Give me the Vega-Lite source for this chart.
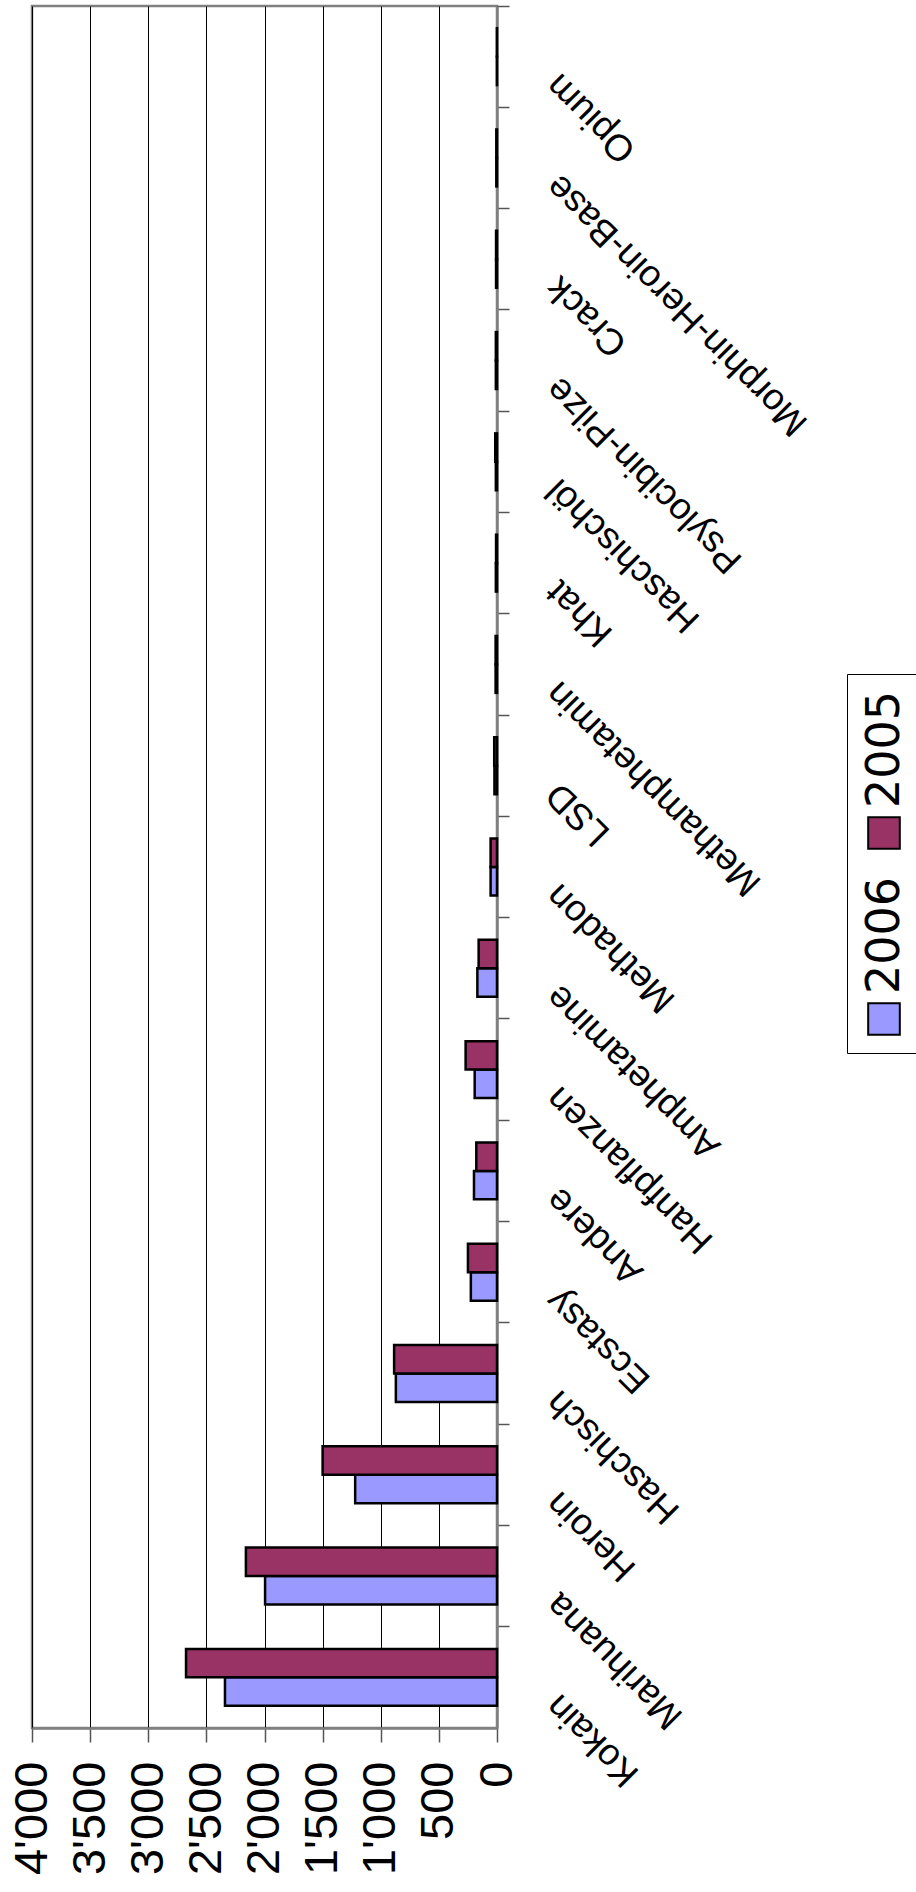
{
  "$schema": "https://vega.github.io/schema/vega-lite/v6.json",
  "autosize": "none",
  "width": 465,
  "height": 1722,
  "padding": {"left": 32, "top": 6, "right": 419, "bottom": 164},
  "background": "#ffffff",
  "data": {
    "values": [
      {"drug": "Kokain", "year": "2006", "n": 2340},
      {"drug": "Kokain", "year": "2005", "n": 2675},
      {"drug": "Marihuana", "year": "2006", "n": 1995},
      {"drug": "Marihuana", "year": "2005", "n": 2160},
      {"drug": "Heroin", "year": "2006", "n": 1220},
      {"drug": "Heroin", "year": "2005", "n": 1500},
      {"drug": "Haschisch", "year": "2006", "n": 870},
      {"drug": "Haschisch", "year": "2005", "n": 885},
      {"drug": "Ecstasy", "year": "2006", "n": 225},
      {"drug": "Ecstasy", "year": "2005", "n": 250},
      {"drug": "Andere", "year": "2006", "n": 198},
      {"drug": "Andere", "year": "2005", "n": 178},
      {"drug": "Hanfpflanzen", "year": "2006", "n": 192},
      {"drug": "Hanfpflanzen", "year": "2005", "n": 270},
      {"drug": "Amphetamine", "year": "2006", "n": 169},
      {"drug": "Amphetamine", "year": "2005", "n": 158},
      {"drug": "Methadon", "year": "2006", "n": 55},
      {"drug": "Methadon", "year": "2005", "n": 55},
      {"drug": "LSD", "year": "2006", "n": 22},
      {"drug": "LSD", "year": "2005", "n": 24},
      {"drug": "Methamphetamin", "year": "2006", "n": 12},
      {"drug": "Methamphetamin", "year": "2005", "n": 12},
      {"drug": "Khat", "year": "2006", "n": 10},
      {"drug": "Khat", "year": "2005", "n": 8},
      {"drug": "Haschischöl", "year": "2006", "n": 10},
      {"drug": "Haschischöl", "year": "2005", "n": 15},
      {"drug": "Psylocibin-Pilze", "year": "2006", "n": 10},
      {"drug": "Psylocibin-Pilze", "year": "2005", "n": 10},
      {"drug": "Crack", "year": "2006", "n": 8},
      {"drug": "Crack", "year": "2005", "n": 8},
      {"drug": "Morphin-Heroin-Base", "year": "2006", "n": 6},
      {"drug": "Morphin-Heroin-Base", "year": "2005", "n": 6},
      {"drug": "Opium", "year": "2006", "n": 1},
      {"drug": "Opium", "year": "2005", "n": 1}
    ]
  },
  "mark": {"type": "bar", "stroke": "#000000", "strokeWidth": 2.5},
  "encoding": {
    "y": {
      "field": "drug",
      "type": "nominal",
      "sort": ["Opium", "Morphin-Heroin-Base", "Crack", "Psylocibin-Pilze", "Haschischöl", "Khat", "Methamphetamin", "LSD", "Methadon", "Amphetamine", "Hanfpflanzen", "Andere", "Ecstasy", "Haschisch", "Heroin", "Marihuana", "Kokain"],
      "scale": {"paddingInner": 0, "paddingOuter": 0},
      "axis": {
        "orient": "right",
        "title": null,
        "bandPosition": 0,
        "tickSize": 12,
        "tickColor": "#555555",
        "tickWidth": 1.5,
        "domainColor": "#808080",
        "domainWidth": 2.5,
        "grid": false,
        "labelAngle": 225,
        "labelAlign": "right",
        "labelBaseline": "alphabetic",
        "labelFont": "Liberation Sans",
        "labelFontSize": 37,
        "labelColor": "#000000",
        "labelPadding": 51,
        "labelOffset": 15,
        "labelLimit": 1000,
        "labelOverlap": false,
        "labelBound": false,
        "labelFlush": false
      }
    },
    "yOffset": {
      "field": "year",
      "type": "nominal",
      "sort": ["2005", "2006"],
      "scale": {"paddingInner": 0, "paddingOuter": 0.78}
    },
    "x": {
      "field": "n",
      "type": "quantitative",
      "scale": {"domain": [0, 4000], "reverse": true, "nice": false, "zero": true},
      "axis": {
        "orient": "bottom",
        "title": null,
        "values": [0, 500, 1000, 1500, 2000, 2500, 3000, 3500, 4000],
        "labelExpr": "replace(format(datum.value, ','), ',', \"'\")",
        "grid": true,
        "gridColor": "#000000",
        "gridWidth": 1,
        "gridOpacity": 1,
        "tickSize": 14,
        "tickColor": "#555555",
        "tickWidth": 1.5,
        "domainColor": "#808080",
        "domainWidth": 2.5,
        "labelAngle": -90,
        "labelAlign": "right",
        "labelBaseline": "middle",
        "labelFont": "Liberation Sans",
        "labelFontSize": 47,
        "labelColor": "#000000",
        "labelPadding": 19,
        "labelLimit": 1000,
        "labelOverlap": false,
        "labelFlush": false,
        "labelBound": false
      }
    },
    "color": {
      "field": "year",
      "type": "nominal",
      "scale": {"domain": ["2005", "2006"], "range": ["#993366", "#9999FF"]},
      "legend": {
        "orient": "none",
        "legendX": 815,
        "legendY": 668,
        "title": " ",
        "titleFont": "DejaVu Sans",
        "titleFontSize": 108,
        "titlePadding": 14,
        "titleOrient": "top",
        "direction": "vertical",
        "strokeColor": "#000000",
        "fillColor": "#ffffff",
        "padding": 14,
        "labelFont": "DejaVu Sans",
        "labelFontSize": 46,
        "labelColor": "#000000",
        "labelOffset": 0,
        "labelLimit": 1000,
        "symbolType": "square",
        "symbolSize": 1000,
        "symbolStrokeColor": "#000000",
        "symbolStrokeWidth": 2,
        "symbolOpacity": 1,
        "rowPadding": 23,
        "encode": {
          "labels": {
            "update": {
              "angle": {"value": -90},
              "align": {"value": "left"},
              "baseline": {"value": "middle"},
              "dx": {"value": 25},
              "dy": {"value": -22}
            }
          }
        }
      }
    }
  },
  "config": {
    "view": {"stroke": "#808080", "strokeWidth": 2.5},
    "font": "Liberation Sans"
  }
}
